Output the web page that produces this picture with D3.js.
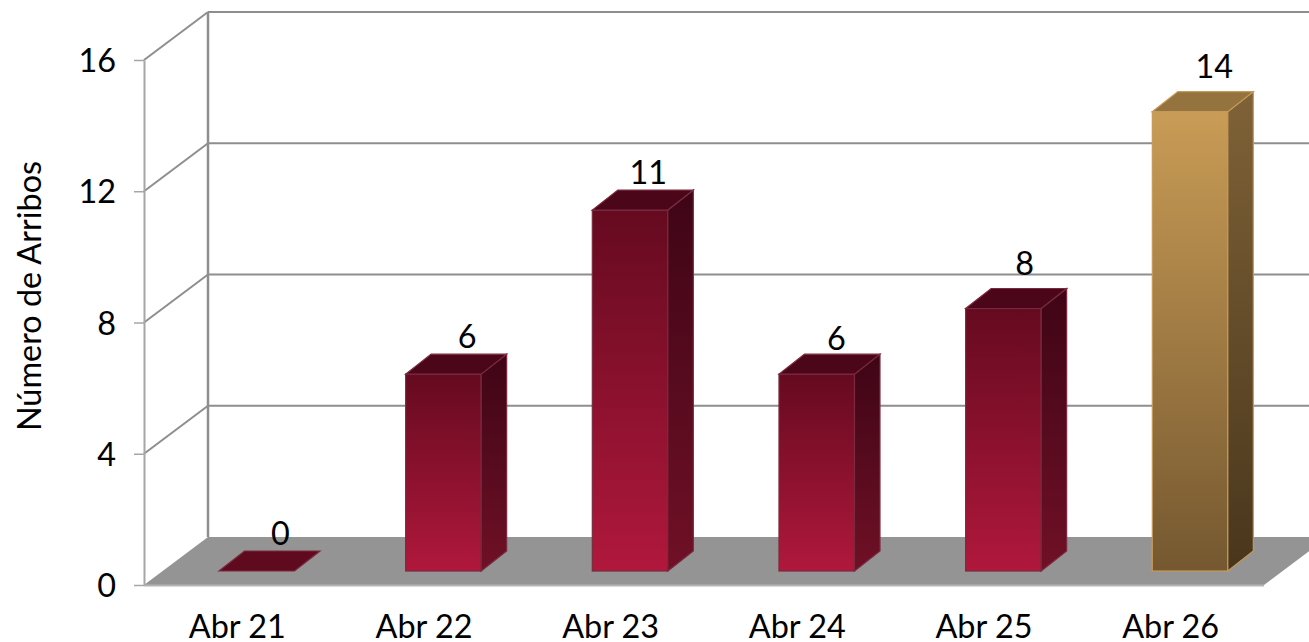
<!DOCTYPE html>
<html>
<head>
<meta charset="utf-8">
<script src="https://cdn.jsdelivr.net/npm/d3@7"></script>
<style>
html, body { margin: 0; padding: 0; background: #fff; overflow: hidden; }
svg { display: block; }
text { font-family: Lato, sans-serif; fill: #000; }
</style>
</head>
<body>
<div id="chart"></div>
<script>
// data
var categories = ["Abr 21", "Abr 22", "Abr 23", "Abr 24", "Abr 25", "Abr 26"];
var arrivals = [0, 6, 11, 6, 8, 14];
var yTicks = [0, 4, 8, 12, 16];
var yTitle = "Número de Arribos";

var width = 1309, height = 642;
var fontSize = 32.4;

// the 3d box: the back wall is pushed by this much from the front plane
var depthX = 64, depthY = -48;
// bars stand part of the way into the box
var barShiftX = 19.4, barShiftY = -14;
var barDepthX = 25.5, barDepthY = -20;

var svg = d3.select("#chart")
    .append("svg")
    .attr("width", width)
    .attr("height", height);

var x = d3.scaleBand()
    .domain(categories)
    .range([144, 1264])
    .paddingInner(0.5955)
    .paddingOuter(0.2978);

var y = d3.scaleLinear()
    .domain([0, 16])
    .range([585, 60]);

// each bar has its gradient over its own height
var defs = svg.append("defs");
function barGradient(id, top, bottom) {
    var g = defs.append("linearGradient")
        .attr("id", id)
        .attr("x1", 0).attr("x2", 0)
        .attr("y1", 0).attr("y2", 1);
    g.append("stop").attr("offset", 0).attr("stop-color", top);
    g.append("stop").attr("offset", 1).attr("stop-color", bottom);
}
barGradient("redFront", "#650a20", "#b0183c");
barGradient("redSide", "#3e0516", "#701026");
barGradient("goldFront", "#c99c56", "#755830");
barGradient("goldSide", "#7f6237", "#48361c");

function path(points) {
    return d3.line()(points) + "Z";
}

var gridColor = "#8e8e8e";

// floor
svg.append("path")
    .attr("d", path([
        [x.range()[0], y(0)],
        [x.range()[1], y(0)],
        [x.range()[1] + depthX, y(0) + depthY],
        [x.range()[0] + depthX, y(0) + depthY]
    ]))
    .attr("fill", "#949494");
svg.append("line")
    .attr("x1", x.range()[0]).attr("x2", x.range()[1])
    .attr("y1", y(0) + 0.5).attr("y2", y(0) + 0.5)
    .attr("stroke", "#b4b4b4")
    .attr("stroke-width", 2);

// back wall grid lines and the diagonals on the side wall
var grid = svg.append("g");
grid.selectAll(".back")
    .data(yTicks.slice(1))
    .enter()
    .append("line")
    .attr("x1", x.range()[0] + depthX)
    .attr("x2", x.range()[1] + depthX)
    .attr("y1", function (d) { return y(d) + depthY; })
    .attr("y2", function (d) { return y(d) + depthY; })
    .attr("stroke", gridColor)
    .attr("stroke-width", 2);
grid.selectAll(".side")
    .data(yTicks.slice(1))
    .enter()
    .append("line")
    .attr("x1", x.range()[0])
    .attr("x2", x.range()[0] + depthX)
    .attr("y1", function (d) { return y(d); })
    .attr("y2", function (d) { return y(d) + depthY; })
    .attr("stroke", gridColor)
    .attr("stroke-width", 2);
grid.append("line")
    .attr("x1", x.range()[0] + depthX).attr("x2", x.range()[0] + depthX)
    .attr("y1", y(16) + depthY).attr("y2", y(0) + depthY)
    .attr("stroke", gridColor)
    .attr("stroke-width", 2.5);

// y axis
var yAxis = svg.append("g")
    .attr("transform", "translate(" + x.range()[0] + ",0)")
    .call(d3.axisLeft(y).tickValues(yTicks).tickSize(10).tickPadding(18).tickSizeOuter(0));
yAxis.select(".domain").attr("stroke", "#a6a6a6").attr("stroke-width", 2);
yAxis.selectAll(".tick line").attr("stroke", "#a6a6a6").attr("stroke-width", 1.5);
yAxis.selectAll("text").attr("dy", "0.36em").style("font-family", "Lato, sans-serif").style("font-size", fontSize + "px").attr("fill", "#000");

// x axis, labels only
var xAxis = svg.append("g")
    .attr("transform", "translate(0," + y(0) + ")")
    .call(d3.axisBottom(x).tickSize(0).tickPadding(30));
xAxis.select(".domain").remove();
xAxis.selectAll("text").style("font-family", "Lato, sans-serif").style("font-size", fontSize + "px").attr("fill", "#000");

// y axis title
svg.append("text")
    .attr("transform", "translate(41," + 296 + ") rotate(-90)")
    .attr("text-anchor", "middle")
    .style("font-size", fontSize + "px")
    .text(yTitle);

// bars: last one is the highlighted day
var bars = svg.selectAll(".bar")
    .data(categories)
    .enter()
    .append("g")
    .attr("class", "bar")
    .attr("transform", "translate(" + barShiftX + "," + barShiftY + ")");

bars.each(function (cat, i) {
    var g = d3.select(this);
    var gold = i === categories.length - 1;
    var x0 = x(cat), x1 = x0 + x.bandwidth();
    var top = y(arrivals[i]), bottom = y(0);
    var edge = gold ? "#c59a58" : "#7a2a3e";

    if (arrivals[i] > 0) {
        g.append("rect")
            .attr("x", x0).attr("y", top)
            .attr("width", x1 - x0).attr("height", bottom - top)
            .attr("fill", gold ? "url(#goldFront)" : "url(#redFront)")
            .attr("stroke", edge)
            .attr("stroke-width", 1.2);
        g.append("path")
            .attr("d", path([[x1, top], [x1 + barDepthX, top + barDepthY], [x1 + barDepthX, bottom + barDepthY], [x1, bottom]]))
            .attr("fill", gold ? "url(#goldSide)" : "url(#redSide)")
            .attr("stroke", edge)
            .attr("stroke-width", 1.2);
    }
    g.append("path")
        .attr("d", path([[x0, top], [x1, top], [x1 + barDepthX, top + barDepthY], [x0 + barDepthX, top + barDepthY]]))
        .attr("fill", gold ? "#95733f" : (i === 0 ? "#600a20" : "#4c0619"))
        .attr("stroke", edge)
        .attr("stroke-width", 1.2);
});

// value labels, nudged by hand as they are in the picture
var nudgeX = [-0.5, -0.5, -6, -4.5, -3, 0];
var nudgeY = [0, -0.5, 0, 1.5, -8, -8];
svg.selectAll(".value")
    .data(arrivals)
    .enter()
    .append("text")
    .attr("class", "value")
    .attr("text-anchor", "middle")
    .attr("x", function (d, i) { return x(categories[i]) + barShiftX + 62 + nudgeX[i]; })
    .attr("y", function (d, i) { return y(d) + barShiftY - 26 + nudgeY[i]; })
    .style("font-size", fontSize + "px")
    .text(function (d) { return d; });
</script>
</body>
</html>
